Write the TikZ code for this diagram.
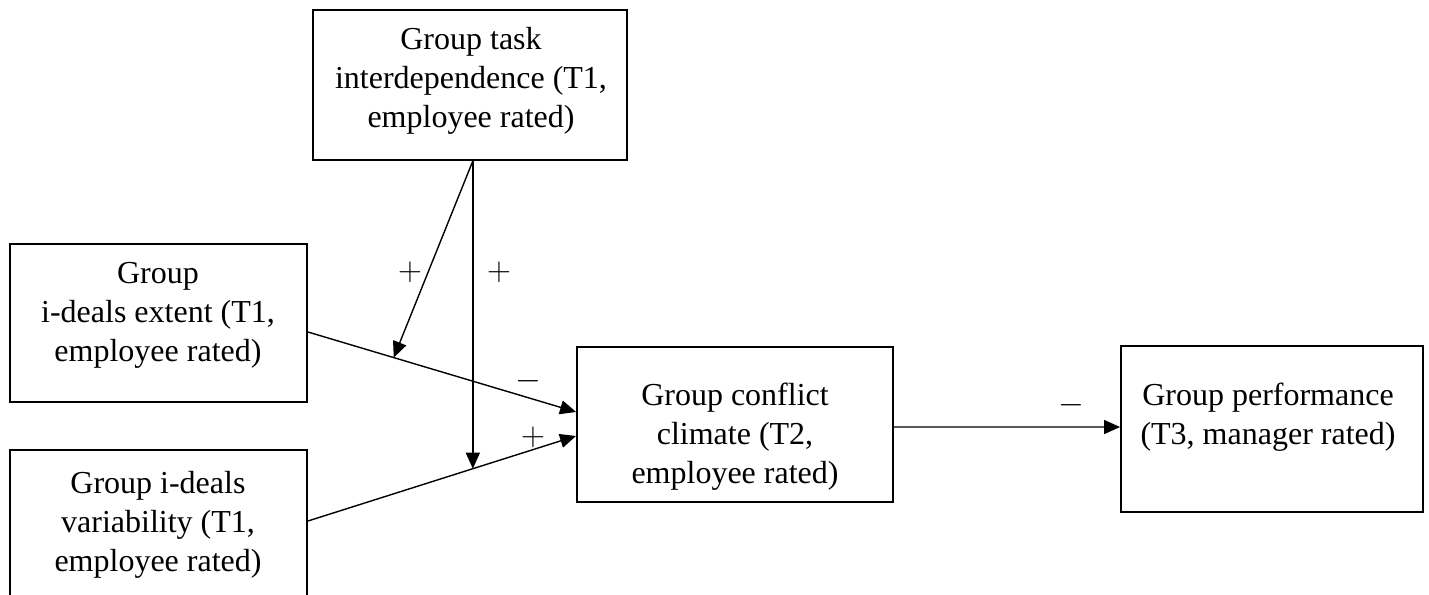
\documentclass[tikz,border=0pt]{standalone}
\usepackage{fontspec}
\setmainfont{Liberation Serif}
\usetikzlibrary{arrows.meta}

\begin{document}
\begin{tikzpicture}
[x=0.75pt,y=-0.75pt,
box/.style={rectangle,draw=black,line width=1.4pt,inner sep=0pt},
txt/.style={align=center,inner sep=0pt,font=\fontsize{24}{29.25}\selectfont},
sgn/.style={inner sep=0pt,font=\fontsize{24}{29}\selectfont},
arr/.style={-{Triangle[length=12pt,width=10.5pt]},line width=1.05pt}]

\clip (0,0) rectangle (1429,594);

% boxes
\node at (470,85)      [box,minimum width=235.5pt,minimum height=112.5pt] (task)    {};
\node at (158.5,323)   [box,minimum width=222.75pt,minimum height=118.5pt] (extent) {};
\node at (158.5,530)   [box,minimum width=222.75pt,minimum height=120pt] (var)      {};
\node at (735,424.5)   [box,minimum width=237pt,minimum height=116.25pt] (climate)  {};
\node at (1272,429)    [box,minimum width=226.5pt,minimum height=124.5pt] (perf)    {};

% texts
\node at (471,81)      [txt] (tasktxt)    {Group task\\interdependence (T1,\\employee rated)};
\node at (158,315)     [txt] (extenttxt)  {Group\\i-deals extent (T1,\\employee rated)};
\node at (158,525)     [txt] (vartxt)     {Group i-deals\\variability (T1,\\employee rated)};
\node at (735,437)     [txt] (climatetxt) {Group conflict\\climate (T2,\\employee rated)};
\node at (1268,417)    [txt] (perftxt)    {Group performance\\(T3, manager rated)};

% paths into the climate box
\draw [arr] ([yshift=-6.75pt]extent.east) -- coordinate[pos=0.32] (ehit) ([yshift=9.4pt]climate.west);
\draw [arr] ([yshift=6.75pt]var.east) -- coordinate[pos=0.615] (vhit) ([yshift=-8.6pt]climate.west);
\draw [arr] ([yshift=-1.9pt]climate.east) -- ([yshift=1.5pt]perf.west);

% moderation
\draw [arr] (vhit |- task.south) -- (vhit);
\draw [arr] (vhit |- task.south) -- (ehit);

% signs
\node at (410,272)  [sgn] (pextent) {$+$};
\node at (499,272)  [sgn] (pvar)    {$+$};
\node at (528,381)  [sgn] (mextent) {$-$};
\node at (533,437)  [sgn] (pclim)   {$+$};
\node at (1071,405) [sgn] (mperf)   {$-$};
\end{tikzpicture}
\end{document}
